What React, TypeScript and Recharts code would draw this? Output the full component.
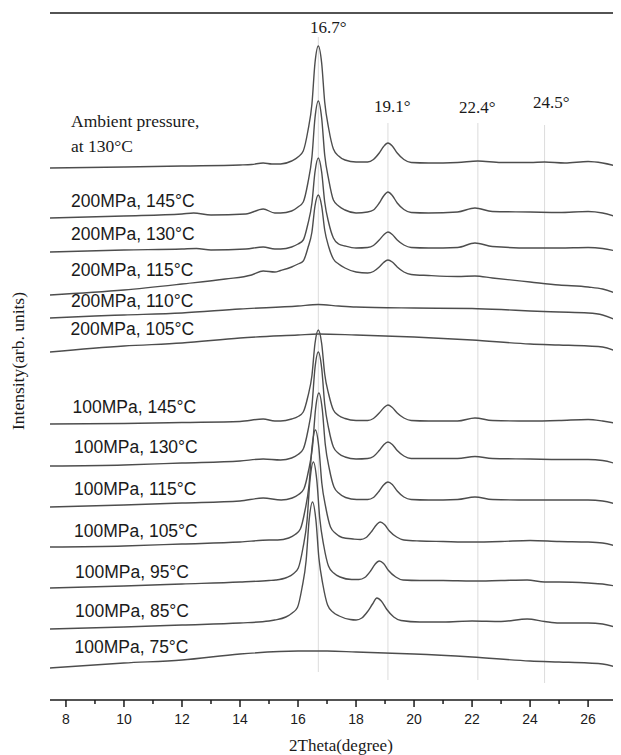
import React from 'react';
import { LineChart, Line, XAxis, YAxis, ReferenceLine } from 'recharts';

type Pt = [number, number];

// 2Theta (degree) vs intensity (arb. units), stacked as in the figure
const ambient130: Pt[] = [
  [7.45, 532], [10, 533], [12, 534], [14, 535], [14.4, 535.5], [14.8, 537], [15.1, 536], [15.4, 536],
  [15.78, 539], [16.0, 543], [16.18, 549], [16.34, 569], [16.48, 596], [16.585, 637], [16.7, 654],
  [16.815, 637], [16.92, 598], [17.06, 571], [17.22, 551], [17.4, 544], [17.62, 540], [18.0, 538],
  [18.4, 538], [18.6, 540.5], [18.8, 547], [18.95, 553.5], [19.1, 557], [19.25, 554], [19.42, 547],
  [19.65, 540.5], [19.9, 537.5], [20.5, 537], [21.5, 537.5], [22.2, 539], [23, 537.5], [24, 537.5],
  [24.5, 538], [25.2, 537], [26, 538.5], [26.5, 537], [27.1, 533],
];

const mpa200_145: Pt[] = [
  [7.45, 482], [10, 484], [12, 486], [12.4, 487], [13, 485], [14.2, 486], [14.8, 491], [15.2, 487],
  [15.4, 487], [15.78, 489], [16.0, 493], [16.18, 498], [16.34, 517], [16.48, 543], [16.585, 582],
  [16.7, 599], [16.815, 582], [16.92, 545], [17.06, 520], [17.22, 500], [17.4, 494], [17.62, 490],
  [18.0, 487], [18.4, 488], [18.6, 490], [18.8, 497], [18.95, 504], [19.1, 508], [19.25, 504.5],
  [19.42, 497], [19.65, 490.5], [19.9, 487.5], [20.5, 487], [21.5, 488], [22.1, 492], [22.7, 488.5],
  [24, 488], [25, 487.5], [26, 488.5], [26.5, 487], [27.1, 482],
];

const mpa200_130: Pt[] = [
  [7.45, 448], [10, 450], [12, 451], [12.5, 451.5], [13, 450], [14.2, 451], [14.8, 453], [15.2, 451],
  [15.4, 451], [15.78, 453], [16.0, 456], [16.18, 460], [16.34, 476], [16.48, 497], [16.585, 528],
  [16.7, 542], [16.815, 528], [16.92, 498], [17.06, 477], [17.22, 462], [17.4, 456], [17.62, 454],
  [18.0, 452], [18.4, 452.5], [18.6, 454.5], [18.8, 460], [18.95, 465], [19.1, 468], [19.25, 465.5],
  [19.42, 460], [19.65, 455], [19.9, 452.5], [20.5, 452], [21.5, 452.5], [22.1, 457], [22.7, 453.5],
  [24, 452], [25, 452], [26, 452.5], [26.5, 451.5], [27.1, 448],
];

const mpa200_115: Pt[] = [
  [7.45, 405], [10, 410], [12, 416], [13.5, 421], [14.4, 425], [14.8, 429], [15.2, 428], [15.4, 429.5],
  [15.78, 433], [16.0, 436], [16.18, 439], [16.34, 452], [16.48, 468], [16.585, 494], [16.7, 505],
  [16.815, 494], [16.92, 470], [17.06, 453], [17.22, 441], [17.4, 436], [17.62, 432], [18.0, 428],
  [18.4, 427], [18.6, 428.5], [18.8, 433], [18.95, 437.5], [19.1, 440], [19.25, 438], [19.42, 433],
  [19.65, 428], [19.9, 425.5], [20.5, 424.5], [21.5, 423.5], [22.1, 424], [22.7, 422], [24, 418],
  [25, 415], [26, 413], [26.5, 411], [27.1, 405],
];

const mpa200_110: Pt[] = [
  [7.45, 382], [9, 384], [10, 385], [12, 387], [14, 391], [16, 394], [16.7, 395.5], [17.4, 394],
  [18, 393], [20, 392], [22, 391.5], [23, 390.5], [24, 389], [25, 388], [26, 387], [26.5, 385],
  [27.1, 378],
];

const mpa200_105: Pt[] = [
  [7.45, 348], [10, 354], [12, 357], [14, 362], [16, 365], [16.7, 366], [18, 365], [20, 363],
  [22, 360], [24, 356], [25, 355], [26, 354], [26.5, 353], [27.1, 347],
];

const mpa100_145: Pt[] = [
  [7.45, 276], [10, 276.5], [12, 277.5], [14, 278.5], [14.8, 281], [15.2, 279], [15.4, 279],
  [15.78, 281], [16.0, 283.5], [16.18, 288], [16.34, 303.5], [16.48, 324.5], [16.585, 356.5],
  [16.7, 370], [16.815, 356.5], [16.92, 326], [17.06, 305.5], [17.22, 290], [17.4, 284.5],
  [17.62, 281.5], [18.0, 279.5], [18.4, 279.5], [18.6, 281.5], [18.8, 287], [18.95, 292], [19.1, 295],
  [19.25, 292.5], [19.42, 287], [19.65, 282], [19.9, 279.5], [20.5, 279], [21.5, 279], [22.1, 282],
  [22.7, 279.5], [24, 279], [25, 279.5], [26, 280.5], [26.5, 279], [27.1, 276],
];

const mpa100_130: Pt[] = [
  [7.45, 234], [10, 235], [12, 237], [14, 239], [14.8, 241], [15.4, 240], [15.78, 242], [16.0, 245.5],
  [16.18, 251], [16.34, 269], [16.48, 294], [16.585, 332], [16.7, 348], [16.815, 332], [16.92, 296],
  [17.06, 271], [17.22, 253], [17.4, 246.5], [17.62, 243], [18.0, 241], [18.4, 241.5], [18.6, 243.5],
  [18.8, 249.5], [18.95, 255], [19.1, 258], [19.25, 255.5], [19.42, 249.5], [19.65, 244], [19.9, 241.5],
  [20.5, 241.5], [21.5, 241.5], [22.1, 243.5], [22.7, 241.5], [24, 241], [25, 240.5], [26, 240.5],
  [26.5, 239.5], [27.1, 235],
];

const mpa100_115: Pt[] = [
  [7.45, 193], [10, 195], [12, 197], [14, 199], [14.8, 202], [15.42, 200], [15.8, 202], [16.02, 205.5],
  [16.2, 211], [16.36, 229], [16.5, 253.5], [16.605, 291], [16.72, 307], [16.835, 291], [16.94, 255.5],
  [17.08, 231], [17.24, 213], [17.42, 206.5], [17.64, 202.5], [18.02, 200.5], [18.4, 200.5],
  [18.6, 202.5], [18.8, 209], [18.95, 215], [19.1, 218], [19.25, 215.5], [19.42, 209], [19.65, 203],
  [19.9, 200.5], [20.5, 200], [21.5, 200.5], [22.1, 203], [22.7, 200.5], [24, 200], [25, 200],
  [26, 200], [26.5, 199], [27.1, 195],
];

const mpa100_105: Pt[] = [
  [7.45, 153], [10, 154], [12, 156], [14, 158], [15, 160], [15.3, 160], [15.68, 162], [15.9, 165.5],
  [16.08, 171], [16.24, 189.5], [16.38, 215], [16.485, 253.5], [16.6, 270], [16.715, 253.5],
  [16.82, 217], [16.96, 192], [17.12, 173], [17.3, 166.5], [17.52, 162.5], [17.9, 161], [18.15, 160.5],
  [18.35, 162.5], [18.55, 169], [18.7, 175], [18.83, 178], [18.98, 175.5], [19.15, 169], [19.4, 163],
  [19.65, 160], [20.2, 159], [21, 158.5], [22, 158], [23, 158.5], [24, 159.5], [25, 158.5], [26, 158],
  [26.5, 157], [27.1, 153],
];

const mpa100_95: Pt[] = [
  [7.45, 112], [10, 114], [12, 116], [14, 118], [15, 119.5], [15.23, 120], [15.61, 122.5], [15.83, 126],
  [16.01, 132], [16.17, 152], [16.31, 179], [16.415, 220.5], [16.53, 238], [16.645, 220.5],
  [16.75, 181.5], [16.89, 154], [17.05, 134], [17.23, 127], [17.45, 123], [17.85, 120.5], [18.1, 120.5],
  [18.3, 122.5], [18.5, 129], [18.65, 135.5], [18.8, 139], [18.95, 136.5], [19.12, 129.5], [19.37, 123],
  [19.62, 120], [20.2, 119.5], [21, 119.5], [22, 119], [23, 119.5], [23.9, 120], [24.5, 118], [25, 118],
  [26, 117], [26.5, 116], [27.1, 113],
];

const mpa100_85: Pt[] = [
  [7.45, 71], [10, 73], [12, 75], [14, 77], [15, 79], [15.2, 80], [15.58, 83], [15.8, 87], [15.98, 92.5],
  [16.14, 112.5], [16.28, 139.5], [16.385, 180.5], [16.5, 198], [16.615, 180.5], [16.72, 142],
  [16.86, 115], [17.02, 95], [17.2, 88], [17.42, 84], [17.8, 80.5], [18.0, 80], [18.2, 82], [18.4, 88.5],
  [18.57, 96], [18.72, 102], [18.87, 99], [19.05, 91], [19.3, 83], [19.55, 79.5], [20.2, 78], [21, 78],
  [22, 79], [23, 78.5], [23.9, 81], [24.5, 78.5], [25, 77], [26, 77], [26.5, 76], [27.1, 71],
];

const mpa100_75: Pt[] = [
  [7.45, 32], [10, 37], [12, 40], [14, 46], [16, 49], [17, 49], [18, 48], [19, 47], [20, 46], [22, 43],
  [24, 39], [25, 38], [26, 37], [26.5, 36], [27.1, 32],
];

const series: Pt[][] = [
  ambient130, mpa200_145, mpa200_130, mpa200_115, mpa200_110, mpa200_105,
  mpa100_145, mpa100_130, mpa100_115, mpa100_105, mpa100_95, mpa100_85, mpa100_75,
];

const curveLabels = [
  '200MPa, 145°C', '200MPa, 130°C', '200MPa, 115°C', '200MPa, 110°C', '200MPa, 105°C',
  '100MPa, 145°C', '100MPa, 130°C', '100MPa, 115°C', '100MPa, 105°C', '100MPa, 95°C',
  '100MPa, 85°C', '100MPa, 75°C',
];

const xTicks = [8, 9, 10, 11, 12, 13, 14, 15, 16, 17, 18, 19, 20, 21, 22, 23, 24, 25, 26, 27];
const peakAt = [16.7, 19.1, 22.2, 24.5];
const peakLabels = ['16.7°', '19.1°', '22.4°', '24.5°'];

// layout (page pixels)
const LABEL_POS = [
  [71, 202], [71, 235], [71, 271], [71, 302], [70.5, 330], [72.5, 408], [74, 448],
  [74, 490], [74, 532], [75, 573], [75, 612], [74.5, 648],
];
const PEAK_LABEL_POS = [[310, 28], [374, 107], [459, 108], [533, 103]];
const GUIDE_SPAN = [[663, 28], [577, 20], [577, 20], [575, 17]];

const SANS = '"Liberation Sans", Arial, sans-serif';
const SERIF = '"Liberation Serif", "Times New Roman", serif';
const CURVE = '#4d4d4d';
const INK = '#1a1a1a';

function Txt({ x, cy, size, serif, children }: any) {
  return (
    <div
      style={{
        position: 'absolute',
        left: x - 8,
        top: cy - 8 - (serif ? 0.507 : 0.49) * size,
        fontSize: size,
        lineHeight: `${size}px`,
        fontFamily: serif ? SERIF : SANS,
        color: INK,
        whiteSpace: 'nowrap',
      }}
    >
      {children}
    </div>
  );
}

function BottomTick(props: any) {
  const { x, y, payload } = props;
  const major = payload.value % 2 === 0;
  return (
    <g>
      <line x1={x} x2={x} y1={y} y2={y + (major ? 7 : 4)} stroke={INK} strokeWidth={1.5} />
      {major && (
        <text x={x} y={y + 24} textAnchor="middle" fontSize={14} fontFamily={SANS} fill={INK}>
          {payload.value}
        </text>
      )}
    </g>
  );
}

export default function App() {
  return (
    <div style={{ position: 'relative', width: 613, height: 747 }}>
      <style>{'html,body{overflow:hidden}'}</style>
      <LineChart width={613} height={747} margin={{ top: 5, right: 1, bottom: 25, left: 42 }}>
        <XAxis
          dataKey="x"
          type="number"
          domain={[7.45, 27.1]}
          allowDataOverflow
          ticks={xTicks}
          interval={0}
          height={30}
          tickSize={0}
          tickMargin={0}
          tickLine={false}
          tick={<BottomTick />}
          axisLine={{ stroke: INK, strokeWidth: 1.6 }}
        />
        <YAxis
          type="number"
          domain={[0, 687]}
          allowDataOverflow
          width={0}
          tick={false}
          tickLine={false}
          axisLine={{ stroke: INK, strokeWidth: 1.6 }}
        />
        <ReferenceLine y={687} stroke={INK} strokeWidth={1.6} />
        {peakAt.map((p, i) => (
          <ReferenceLine
            key={p}
            segment={[{ x: p, y: GUIDE_SPAN[i][0] }, { x: p, y: GUIDE_SPAN[i][1] }]}
            stroke="#dcdcdc"
            strokeWidth={1}
          />
        ))}
        {series.map((s, i) => (
          <Line
            key={i}
            data={s.map(([x, y]) => ({ x, y }))}
            dataKey="y"
            type="monotone"
            stroke={CURVE}
            strokeWidth={1.4}
            dot={false}
            activeDot={false}
            isAnimationActive={false}
          />
        ))}
      </LineChart>

      <svg width={30} height={747} style={{ position: 'absolute', left: 0, top: 0 }}>
        <text
          x={10}
          y={353}
          transform="rotate(-90, 10, 353)"
          textAnchor="middle"
          dominantBaseline="central"
          fontSize={17.5}
          fontFamily={SERIF}
          fill={INK}
        >
          Intensity(arb. units)
        </text>
      </svg>
      <Txt x={71} cy={122} size={17.5} serif>Ambient pressure,</Txt>
      <Txt x={71} cy={147} size={17.5} serif>at 130°C</Txt>
      {curveLabels.map((t, i) => (
        <Txt key={t} x={LABEL_POS[i][0]} cy={LABEL_POS[i][1]} size={17.5}>{t}</Txt>
      ))}
      {peakLabels.map((t, i) => (
        <Txt key={t} x={PEAK_LABEL_POS[i][0]} cy={PEAK_LABEL_POS[i][1]} size={17} serif>{t}</Txt>
      ))}
      <Txt x={289} cy={746} size={17} serif>2Theta(degree)</Txt>
    </div>
  );
}
